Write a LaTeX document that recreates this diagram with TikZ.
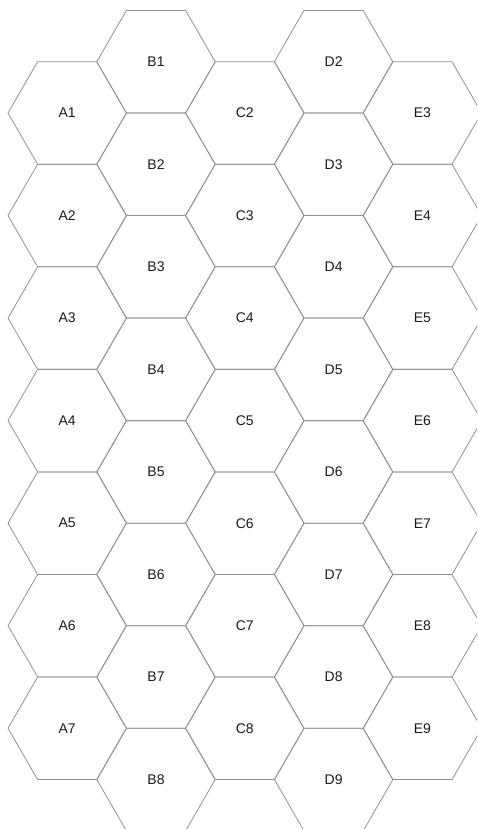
\documentclass[tikz,border=0pt]{standalone}
\usepackage{fontspec}
\setmainfont{Liberation Sans}
\usetikzlibrary{shapes.geometric}
\definecolor{hexline}{HTML}{919191}
\definecolor{hextext}{HTML}{1A1A1A}
\tikzset{
  hexcell/.style={regular polygon, regular polygon sides=6, minimum size=118.4pt,
    inner sep=0pt, outer sep=0pt, draw=hexline, line width=0.8pt,
    text=hextext, font=\fontsize{14}{16}\selectfont}
}
\begin{document}
\begin{tikzpicture}[x=1pt,y=1pt]
\useasboundingbox (0,0) rectangle (477,-829);
\clip (0,0) rectangle (477,-829);
\foreach \i in {1,...,7}
  \node[hexcell] (A\i) at (67.2, {-(113+(\i-1)*102.55)}) {A\i};
\foreach \i in {1,...,8}
  \node[hexcell] (B\i) at (156.0, {-(61.7+(\i-1)*102.55)}) {B\i};
\foreach \i in {2,...,8}
  \node[hexcell] (C\i) at (244.8, {-(113+(\i-2)*102.55)}) {C\i};
\foreach \i in {2,...,9}
  \node[hexcell] (D\i) at (333.6, {-(61.7+(\i-2)*102.55)}) {D\i};
\foreach \i in {3,...,9}
  \node[hexcell] (E\i) at (422.4, {-(113+(\i-3)*102.55)}) {E\i};
\end{tikzpicture}
\end{document}
